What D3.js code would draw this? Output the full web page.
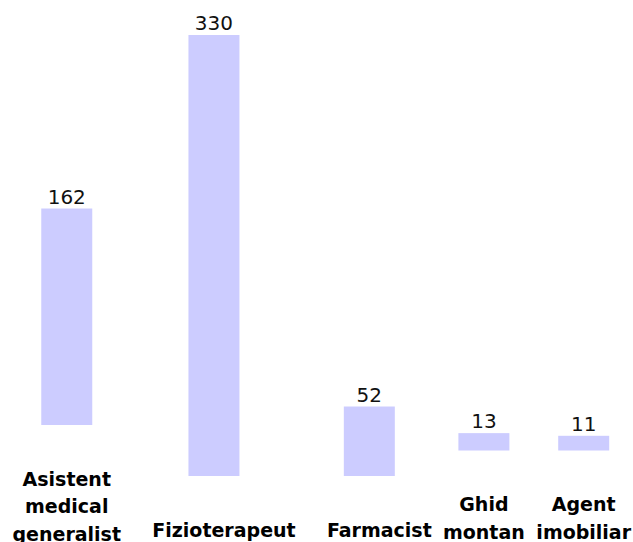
<!DOCTYPE html>
<html lang="ro">

<head>
    <meta charset="UTF-8">
    <title>Bar chart</title>
    <style>
        body {
            margin: 0;
            background: #fff;
        }

        .valueText {
            font-family: "DejaVu Sans", sans-serif;
            font-size: 20px;
            fill: #111;
            text-anchor: middle;
        }

        .catText {
            font-family: "DejaVu Sans", sans-serif;
            font-size: 19px;
            font-weight: bold;
            fill: #000;
            text-anchor: middle;
        }
    </style>
</head>

<body>
    <script src="https://d3js.org/d3.v7.min.js"></script>
    <script>
        const width = 633;
        const height = 542;
        const barWidth = 51;
        const startX = 12.5;    // left edge of first column
        const colGap = 11.25;   // space between columns
        const baseBottom = 476; // bar bottom for a one-line label
        const shiftPerLine = 25.5;
        const labelOffset = 60.5;
        const lineHeight = 27.5;
        const singleLineDx = 10; // one-line labels sit a bit right, in a wider column
        const plotHeight = 441;

        // data
        const categories = ['Asistent medical generalist', 'Fizioterapeut', 'Farmacist', 'Ghid montan', 'Agent imobiliar'];
        const values = [162, 330, 52, 13, 11];

        const svg = d3.select('body').append('svg').attr('width', width).attr('height', height);

        const yScale = d3.scaleLinear()
            .domain([0, d3.max(values)])
            .range([0, plotHeight]);

        const cols = svg.selectAll('g.col')
            .data(categories.map(function (c, i) { return { name: c, value: values[i], lines: c.split(' ') }; }))
            .enter()
            .append('g')
            .attr('class', 'col');

        // labels first (one word per line), measured to lay the columns out
        cols.each(function (d) {
            const g = d3.select(this);
            const single = d.lines.length === 1;
            d.bottom = baseBottom - (d.lines.length - 1) * shiftPerLine;
            const t = g.append('text')
                .attr('class', 'catText')
                .attr('x', single ? singleLineDx : 0)
                .attr('y', d.bottom + labelOffset);
            d.lines.forEach(function (w, k) {
                t.append('tspan')
                    .attr('x', single ? singleLineDx : 0)
                    .attr('dy', k === 0 ? 0 : lineHeight)
                    .text(w);
            });
            d.colWidth = t.node().getBBox().width + (single ? 2 * singleLineDx : 0);
        });

        let acc = startX;
        cols.each(function (d) {
            d.cx = acc + d.colWidth / 2;
            acc += d.colWidth + colGap;
        });
        cols.attr('transform', function (d) { return 'translate(' + d.cx + ',0)'; });

        cols.append('rect')
            .attr('x', -barWidth / 2)
            .attr('y', function (d) { return d.bottom - yScale(d.value); })
            .attr('width', barWidth)
            .attr('height', function (d) { return yScale(d.value); })
            .attr('fill', '#ccccff');

        cols.append('text')
            .attr('class', 'valueText')
            .attr('x', 0)
            .attr('y', function (d) { return d.bottom - yScale(d.value) - 5; })
            .text(function (d) { return d.value; });
    </script>
</body>

</html>
